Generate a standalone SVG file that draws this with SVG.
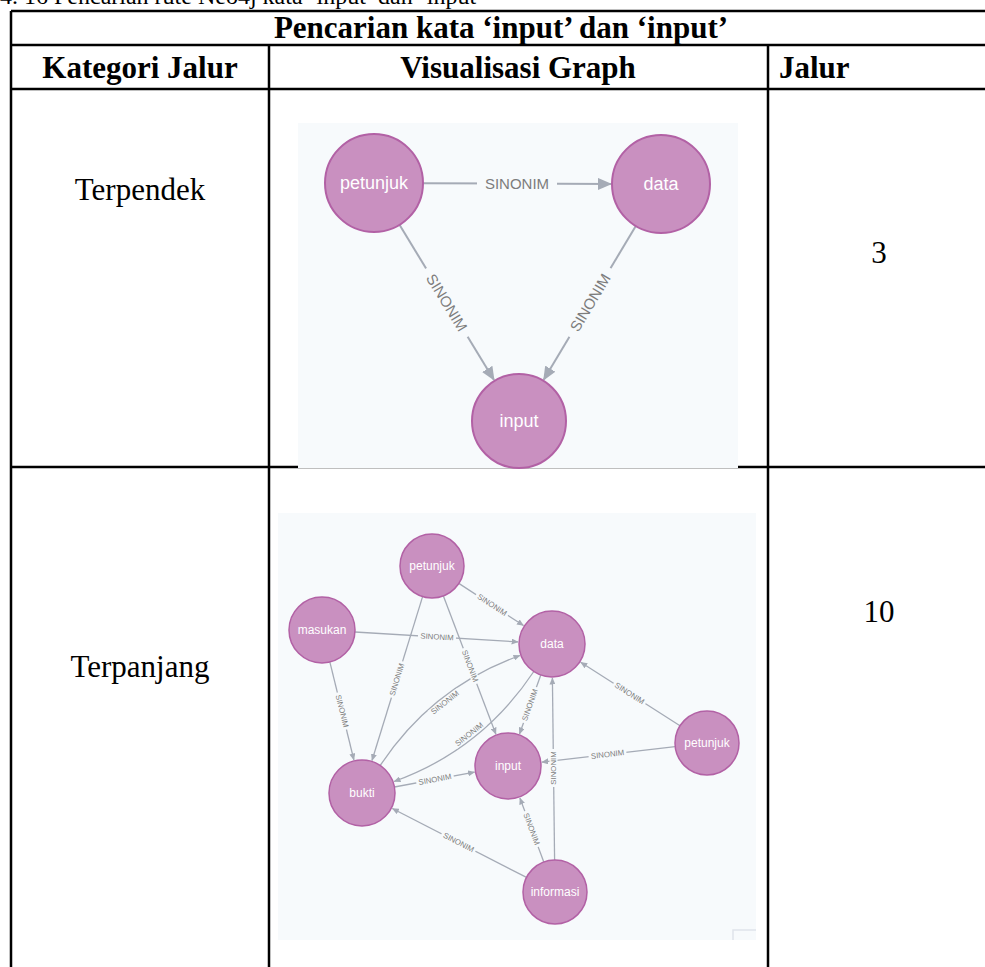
<svg xmlns="http://www.w3.org/2000/svg" width="985" height="967" viewBox="0 0 985 967">
  <defs>
    <style>
      .grid{stroke:#000;stroke-width:2.5;fill:none}
      .cap{font-family:"Liberation Serif","Times New Roman",serif;font-size:24px;fill:#000}
      .hd{font-family:"Liberation Serif","Times New Roman",serif;font-size:31px;font-weight:bold;fill:#000}
      .bd{font-family:"Liberation Serif","Times New Roman",serif;font-size:31px;fill:#000}
      .bg{fill:#f7fafc}
      .node circle{fill:#c990c0;stroke:#b261a5;stroke-width:2}
      .node text{font-family:"Liberation Sans",Arial,sans-serif;fill:#fff;text-anchor:middle;dominant-baseline:central}
      .big .node text{font-size:18px}
      .small .node text{font-size:12px}
      .small .node circle{stroke-width:1.5}
      .rel path{stroke:#a5abb6;fill:none}
      .big .rel path{stroke-width:2;marker-end:url(#arrowBig)}
      .small .rel path{stroke-width:1.3;marker-end:url(#arrowSmall)}
      .lbl rect{fill:#f7fafc}
      .lbl text{font-family:"Liberation Sans",Arial,sans-serif;fill:#7d7d7d;text-anchor:middle;dominant-baseline:central}
      .big .lbl text{font-size:15px}
      .small .lbl text{font-size:7.8px}
    </style>
    <marker id="arrowBig" markerUnits="userSpaceOnUse" markerWidth="14" markerHeight="12" refX="13" refY="6" orient="auto">
      <path d="M0,0 L14,6 L0,12 z" fill="#a5abb6"/>
    </marker>
    <marker id="arrowSmall" markerUnits="userSpaceOnUse" markerWidth="7" markerHeight="6" refX="6.5" refY="3" orient="auto">
      <path d="M0,0 L7,3 L0,6 z" fill="#a5abb6"/>
    </marker>
  </defs>

  <rect width="985" height="967" fill="#fff"/>

  <!-- caption above the table (top cut off) -->
  <text class="cap" x="0" y="4">4. 16 Pencarian rute Neo4j kata ‘input’ dan ‘input’</text>

  <!-- table grid -->
  <g id="table">
    <line class="grid" x1="11" y1="11" x2="985" y2="11"/>
    <line class="grid" x1="11" y1="11" x2="11" y2="967"/>
    <line class="grid" x1="11" y1="45" x2="985" y2="45"/>
    <line class="grid" x1="11" y1="89" x2="985" y2="89"/>
    <line class="grid" x1="11" y1="467" x2="985" y2="467"/>
    <line class="grid" x1="269" y1="45" x2="269" y2="967"/>
    <line class="grid" x1="768" y1="45" x2="768" y2="967"/>

    <text class="hd" x="501" y="38" text-anchor="middle">Pencarian kata ‘input’ dan ‘input’</text>
    <text class="hd" x="140" y="78" text-anchor="middle">Kategori Jalur</text>
    <text class="hd" x="518" y="78" text-anchor="middle">Visualisasi Graph</text>
    <text class="hd" x="779" y="78">Jalur</text>

    <text class="bd" x="140" y="200" text-anchor="middle">Terpendek</text>
    <text class="bd" x="879" y="263" text-anchor="middle">3</text>
    <text class="bd" x="140" y="677" text-anchor="middle">Terpanjang</text>
    <text class="bd" x="879" y="622" text-anchor="middle">10</text>
  </g>

  <!-- shortest path graph -->
  <g id="graph-shortest" class="big">
    <rect class="bg" x="298" y="123" width="440" height="345"/>
    <g id="rels-shortest" class="rel">
      <path d="M423,183.2 L611,184"/>
      <path d="M399.5,224.8 L494,380"/>
      <path d="M635.8,226 L543.7,379.8"/>
      <g class="lbl" transform="translate(517,183.5)"><rect x="-40" y="-8" width="80" height="16"/><text>SINONIM</text></g>
      <g class="lbl" transform="translate(447,302.5) rotate(58.6)"><rect x="-40" y="-8" width="80" height="16"/><text>SINONIM</text></g>
      <g class="lbl" transform="translate(590,302.5) rotate(-59.1)"><rect x="-40" y="-8" width="80" height="16"/><text>SINONIM</text></g>
    </g>
    <g id="s-petunjuk" class="node"><circle cx="374" cy="183" r="49"/><text x="374" y="183">petunjuk</text></g>
    <g id="s-data" class="node"><circle cx="661" cy="184" r="49"/><text x="661" y="184">data</text></g>
    <g id="s-input" class="node"><circle cx="519" cy="421" r="47"/><text x="519" y="421">input</text></g>
  </g>

  <!-- longest path graph -->
  <g id="graph-longest" class="small">
    <rect class="bg" x="278" y="513" width="478" height="427"/>
    <path d="M733,940 V930 H756" fill="none" stroke="#dfe4ea" stroke-width="1.5"/>
    <g id="rels-longest" class="rel">
      <path d="M458.8,583.4 L523.5,625.5"/>
      <path d="M354.9,632 L518.1,641.9"/>
      <path d="M422.6,596.6 L372,760.5"/>
      <path d="M329.9,662.1 L353.9,760"/>
      <path d="M443.4,595.9 L495.9,734.2"/>
      <path d="M380.2,765.5 Q432.3,687 520,655.5"/>
      <path d="M533.8,671.5 Q481.7,750 394,781.5"/>
      <path d="M540.8,675 L519.5,734"/>
      <path d="M394.4,787 L474.6,772.2"/>
      <path d="M680,725.8 L580.7,662.3"/>
      <path d="M675.2,746.7 L541.8,762.1"/>
      <path d="M554.6,860 L552.4,678"/>
      <path d="M543.8,862 L519.9,797.9"/>
      <path d="M526.5,877.4 L392.3,808.5"/>

      <g class="lbl" transform="translate(492,605) rotate(33)"><rect x="-19" y="-4" width="38" height="8"/><text>SINONIM</text></g>
      <g class="lbl" transform="translate(437,637) rotate(3.5)"><rect x="-19" y="-4" width="38" height="8"/><text>SINONIM</text></g>
      <g class="lbl" transform="translate(397,679.5) rotate(-72.9)"><rect x="-19" y="-4" width="38" height="8"/><text>SINONIM</text></g>
      <g class="lbl" transform="translate(342,711) rotate(76.2)"><rect x="-19" y="-4" width="38" height="8"/><text>SINONIM</text></g>
      <g class="lbl" transform="translate(470,666) rotate(69.2)"><rect x="-19" y="-4" width="38" height="8"/><text>SINONIM</text></g>
      <g class="lbl" transform="translate(445,702.5) rotate(-38.1)"><rect x="-19" y="-4" width="38" height="8"/><text>SINONIM</text></g>
      <g class="lbl" transform="translate(469.3,734.2) rotate(-38.1)"><rect x="-19" y="-4" width="38" height="8"/><text>SINONIM</text></g>
      <g class="lbl" transform="translate(530,705) rotate(-70.2)"><rect x="-19" y="-4" width="38" height="8"/><text>SINONIM</text></g>
      <g class="lbl" transform="translate(435,779.5) rotate(-10.5)"><rect x="-19" y="-4" width="38" height="8"/><text>SINONIM</text></g>
      <g class="lbl" transform="translate(629.5,693.5) rotate(32.6)"><rect x="-19" y="-4" width="38" height="8"/><text>SINONIM</text></g>
      <g class="lbl" transform="translate(607.5,754.5) rotate(-6.6)"><rect x="-19" y="-4" width="38" height="8"/><text>SINONIM</text></g>
      <g class="lbl" transform="translate(553.5,768) rotate(-90)"><rect x="-19" y="-4" width="38" height="8"/><text>SINONIM</text></g>
      <g class="lbl" transform="translate(531.5,829) rotate(69.5)"><rect x="-19" y="-4" width="38" height="8"/><text>SINONIM</text></g>
      <g class="lbl" transform="translate(458.5,842.5) rotate(27.2)"><rect x="-19" y="-4" width="38" height="8"/><text>SINONIM</text></g>
    </g>
    <g id="l-petunjuk-top" class="node"><circle cx="432" cy="566" r="32"/><text x="432" y="566">petunjuk</text></g>
    <g id="l-masukan" class="node"><circle cx="322" cy="630" r="33"/><text x="322" y="630">masukan</text></g>
    <g id="l-data" class="node"><circle cx="552" cy="644" r="33"/><text x="552" y="644">data</text></g>
    <g id="l-petunjuk-right" class="node"><circle cx="707" cy="743" r="32"/><text x="707" y="743">petunjuk</text></g>
    <g id="l-input" class="node"><circle cx="508" cy="766" r="33"/><text x="508" y="766">input</text></g>
    <g id="l-bukti" class="node"><circle cx="362" cy="793" r="33"/><text x="362" y="793">bukti</text></g>
    <g id="l-informasi" class="node"><circle cx="555" cy="892" r="32"/><text x="555" y="892">informasi</text></g>
  </g>
</svg>
